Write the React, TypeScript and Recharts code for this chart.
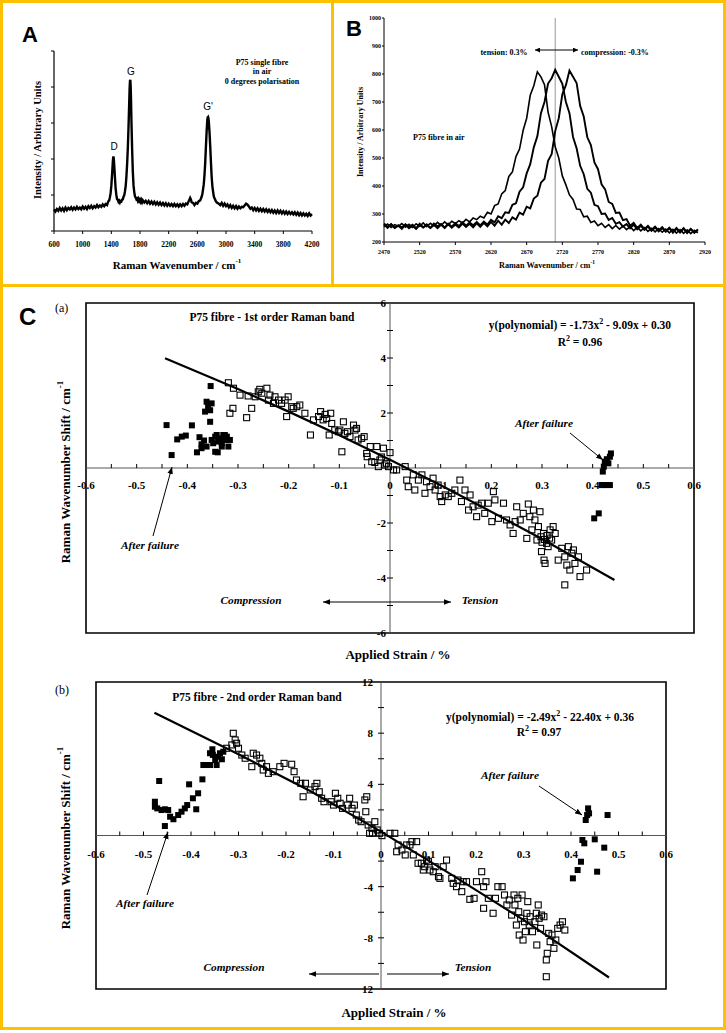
import React from 'react';
import {
  LineChart, Line, XAxis, YAxis, ComposedChart, Scatter, ReferenceLine, ReferenceArea,
} from 'recharts';

const SERIF = '"Liberation Serif","Times New Roman",Times,serif';
const SANS = '"Liberation Sans",Arial,Helvetica,sans-serif';
const GOLD = '#FFC000';

// ---------------- Panel A : full Raman spectrum ----------------
const specA: [number, number][] = [
  [600,600],[620,540],[640,610],[660,560],[680,640],[700,570],[720,630],[740,560],[760,650],[780,580],
  [800,640],[820,600],[840,660],[860,590],[880,650],[900,600],[920,670],[940,610],[960,650],[980,600],
  [1000,680],[1020,620],[1040,670],[1060,610],[1080,690],[1100,640],[1120,700],[1140,630],[1160,690],[1180,650],
  [1200,720],[1220,660],[1240,710],[1260,670],[1280,740],[1300,690],[1320,750],[1340,720],
  [1350,780],[1360,830],[1370,850],[1380,940],[1390,1050],[1400,1260],[1410,1560],[1420,1900],[1425,2030],[1430,2070],
  [1435,1990],[1440,1840],[1450,1490],[1460,1180],[1470,1000],[1480,880],[1490,870],[1500,810],[1510,840],[1520,790],
  [1530,830],[1540,820],[1550,870],[1560,880],[1570,950],[1580,990],[1590,1100],[1600,1240],[1610,1500],[1620,1850],
  [1630,2300],[1640,2900],[1650,3600],[1655,3950],[1660,4170],[1665,4200],[1670,4010],[1675,3620],[1680,3100],[1690,2280],
  [1700,1640],[1710,1260],[1720,1080],[1730,960],[1740,930],[1750,880],[1760,900],[1770,840],[1780,890],[1790,830],
  [1800,870],[1810,810],[1820,860],[1830,800],[1840,850],
  [1860,790],[1880,840],[1900,770],[1920,830],[1940,760],[1960,820],[1980,750],[2000,810],[2020,740],[2040,800],
  [2060,730],[2080,790],[2100,720],[2120,780],[2140,710],[2160,770],[2180,700],[2200,760],[2220,700],[2240,750],
  [2260,690],[2280,750],[2300,690],[2320,740],[2340,680],[2360,740],[2380,690],[2400,750],[2420,700],[2440,760],
  [2460,740],[2480,830],[2500,920],[2510,880],[2520,800],[2540,780],[2560,720],[2580,780],[2600,760],[2620,830],
  [2640,850],[2660,950],
  [2670,1030],[2680,1160],[2690,1300],[2700,1560],[2710,1900],[2720,2350],[2730,2780],[2740,3100],[2745,3160],[2750,3170],
  [2755,3130],[2760,3040],[2770,2740],[2780,2350],[2790,1900],[2800,1500],[2810,1240],[2820,1090],[2830,960],[2840,910],
  [2860,820],[2880,780],[2900,760],[2920,720],[2940,780],[2960,700],[2980,760],[3000,690],[3020,740],[3040,660],
  [3060,720],[3080,640],[3100,700],[3120,630],[3140,690],[3160,620],[3180,680],[3200,630],[3220,670],[3240,660],
  [3260,710],[3280,760],[3300,730],[3320,680],[3340,620],[3360,650],[3380,580],[3400,640],[3420,570],[3440,630],
  [3460,560],[3480,620],[3500,550],[3520,610],[3540,540],[3560,600],[3580,530],[3600,590],[3620,520],[3640,580],
  [3660,510],[3680,570],[3700,500],[3720,570],[3740,500],[3760,560],[3780,490],[3800,550],[3820,480],[3840,540],
  [3860,470],[3880,530],[3900,470],[3920,520],[3940,460],[3960,520],[3980,450],[4000,510],[4020,440],[4040,500],
  [4060,430],[4080,490],[4100,430],[4120,480],[4140,420],[4160,490],[4180,430],[4200,470],
];
const aXTicks = [600, 1000, 1400, 1800, 2200, 2600, 3000, 3400, 3800, 4200];
const aYTicks = [0, 1000, 2000, 3000, 4000, 5000];

// ---------------- Panel B : G' band under strain ----------------
const bWave = [
  2470,2475,2480,2485,2490,2495,2500,2505,2510,2515,2520,2525,2530,2535,2540,2545,
  2550,2555,2560,2565,2570,2575,2580,2585,2590,2595,2600,2605,2610,2615,2620,2625,
  2630,2635,2640,2645,2650,2655,2660,2665,2670,2675,2680,2685,2690,2695,2700,2705,
  2710,2715,2720,2725,2730,2735,2740,2745,2750,2755,2760,2765,2770,2775,2780,2785,
  2790,2795,2800,2805,2810,2815,2820,2825,2830,2835,2840,2845,2850,2855,2860,2865,
  2870,2875,2880,2885,2890,2895,2900,2905,2910,
];
const bTension = [
  255,264,252,262,256,266,253,263,252,265,256,268,255,267,258,270,
  259,272,261,274,266,276,268,281,272,286,280,292,286,306,300,330,
  336,372,384,434,450,505,532,598,642,724,758,808,790,762,664,612,
  540,500,436,404,368,352,318,316,290,292,270,275,258,267,252,262,
  248,259,246,257,244,255,241,253,240,251,238,249,236,248,235,246,
  233,245,232,244,231,243,230,242,233,
];
const bZero = [
  262,250,264,251,259,247,263,254,262,249,265,252,261,250,266,256,
  264,251,266,255,267,257,270,258,270,260,271,259,273,262,279,270,
  292,285,306,304,333,338,380,395,445,478,538,578,660,700,766,785,
  815,790,765,700,660,575,535,472,442,390,376,333,328,300,302,279,
  286,265,271,255,264,249,262,245,258,243,255,240,252,238,250,237,
  249,233,247,234,248,232,246,233,243,
];
const bCompression = [
  266,254,263,250,259,252,262,249,258,247,260,252,263,250,261,249,
  262,250,263,251,262,252,266,254,265,252,267,254,268,256,272,258,
  276,262,280,268,288,280,305,298,326,320,355,365,412,425,490,514,
  596,642,728,760,812,790,768,686,648,574,546,484,460,406,388,343,
  336,304,305,278,282,258,268,250,262,246,258,243,255,241,253,238,
  251,236,250,235,249,234,247,233,245,
];
const bXTicks = [2470, 2520, 2570, 2620, 2670, 2720, 2770, 2820, 2870, 2920];
const bYTicks = [200, 300, 400, 500, 600, 700, 800, 900, 1000];
const bCentre = 2710;

// ---------------- Panel C : strain shifts ----------------
const cXLabelValues = [-0.6, -0.5, -0.4, -0.3, -0.2, -0.1, 0, 0.1, 0.2, 0.3, 0.4, 0.5, 0.6];
const cXLabelText = ['-0.6', '-0.5', '-0.4', '-0.3', '-0.2', '-0.1', '0', '0.1', '0.2', '0.3', '0.4', '0.5', '0.6'];
const cXMinor = [-0.55,-0.5,-0.45,-0.4,-0.35,-0.3,-0.25,-0.2,-0.15,-0.1,-0.05,0.05,0.1,0.15,0.2,0.25,0.3,0.35,0.4,0.45,0.5,0.55];

// (a) first-order band
const caYLabelValues = [6, 4, 2, -2, -4, -6];
const caYLabelText = ['6', '4', '2', '-2', '-4', '-6'];
const caYMinor = [-5, -4, -3, -2, -1, 1, 2, 3, 4, 5];
const caOpen: [number, number][] = [
  [-0.319,3.1],[-0.316,1.99],[-0.309,2.9],[-0.31,2.17],[-0.296,2.65],[-0.283,1.83],[-0.28,2.62],[-0.273,2.17],
  [-0.266,2.59],[-0.26,2.77],[-0.257,2.86],[-0.253,2.72],[-0.243,2.9],[-0.24,2.47],[-0.237,2.65],[-0.23,2.35],
  [-0.227,2.59],[-0.22,2.47],[-0.214,2.35],[-0.207,2.47],[-0.201,2.59],[-0.204,1.87],[-0.194,2.23],[-0.191,2.17],
  [-0.184,2.23],[-0.178,2.29],[-0.168,1.99],[-0.157,1.2],[-0.151,1.75],[-0.141,1.87],[-0.137,2.05],[-0.132,1.75],
  [-0.128,1.95],[-0.125,1.8],[-0.12,1.2],[-0.117,1.99],[-0.115,1.62],[-0.109,1.38],[-0.102,1.32],[-0.099,1.38],
  [-0.095,0.59],[-0.092,1.68],[-0.089,1.26],[-0.084,1.32],[-0.079,1.14],[-0.072,1.56],[-0.069,1.38],[-0.066,1.44],
  [-0.063,1.02],[-0.056,1.08],[-0.051,1.14],[-0.046,0.53],[-0.045,0.41],[-0.039,0.78],[-0.036,0.23],[-0.03,0.2],
  [-0.026,0.78],[-0.023,0.05],[-0.02,0.29],[-0.013,0.72],[-0.01,0.11],[-0.003,0.05],[0,0.56],[0.007,-0.07],
  [-0.017,0.4],[-0.007,0.17],[0.013,-0.07],[0.03,0.05],[0.033,-0.44],[0.036,-0.68],[0.046,-0.25],[0.049,-0.8],
  [0.056,-0.44],[0.063,-0.25],[0.069,-0.92],[0.072,-0.5],[0.079,-0.68],[0.085,-0.37],[0.089,-0.8],[0.095,-0.62],
  [0.102,-1.22],[0.099,-1.04],[0.109,-0.98],[0.115,-1.04],[0.122,-0.92],[0.128,-0.8],[0.138,-0.44],[0.141,-1.22],
  [0.148,-0.8],[0.155,-1.53],[0.158,-0.98],[0.164,-1.41],[0.171,-1.77],[0.174,-1.35],[0.181,-1.28],[0.187,-1.65],
  [0.194,-1.28],[0.201,-1.95],[0.204,-0.86],[0.207,-1.16],[0.214,-1.83],[0.224,-1.28],[0.23,-1.89],[0.237,-2.07],
  [0.243,-2.38],[0.247,-1.95],[0.25,-1.41],[0.257,-1.89],[0.263,-1.65],[0.27,-2.56],[0.273,-1.31],[0.276,-1.77],
  [0.28,-2.25],[0.283,-1.53],[0.286,-1.89],[0.29,-2.62],[0.293,-2.13],[0.296,-1.59],[0.299,-3.04],[0.303,-2.38],
  [0.304,-3.35],[0.306,-3.47],[0.309,-2.74],[0.312,-2.86],[0.316,-2.25],[0.319,-2.62],[0.322,-2.13],[0.326,-2.38],
  [0.298,-2.5],[0.305,-2.6],[0.31,-2.45],[0.315,-2.55],[0.3,-2.7],
  [0.332,-3.35],[0.339,-2.92],[0.345,-4.25],[0.345,-3.23],[0.349,-3.53],[0.352,-2.86],[0.355,-3.71],[0.359,-3.1],
  [0.362,-2.98],[0.365,-3.47],[0.372,-3.23],[0.375,-3.95],[0.388,-3.71],
];
const caFilled: [number, number][] = [
  [-0.441,1.56],[-0.431,0.47],[-0.42,1.04],[-0.411,1.14],[-0.403,1.18],[-0.391,1.55],[-0.381,0.57],[-0.376,1.12],
  [-0.372,0.86],[-0.367,1.0],[-0.372,0.72],[-0.365,2.05],[-0.362,2.41],[-0.359,2.23],[-0.355,2.1],[-0.355,1.68],
  [-0.354,2.98],[-0.352,2.35],[-0.352,1.02],[-0.349,0.9],[-0.345,0.59],[-0.342,1.2],[-0.34,0.57],[-0.336,1.08],
  [-0.332,0.9],[-0.329,1.2],[-0.326,1.02],[-0.322,1.14],[-0.319,0.78],[-0.316,1.02],[-0.362,0.78],[-0.332,0.78],
  [-0.339,0.96],[-0.345,1.14],[-0.326,1.2],
  [0.403,-1.83],[0.412,-1.65],[0.42,-0.13],[0.422,0.05],[0.424,0.23],[0.428,0.32],[0.431,0.17],[0.434,0.41],
  [0.436,0.53],[0.418,-0.62],[0.421,-0.62],[0.428,-0.62],[0.434,-0.62],
];
const caFit: [number, number][] = [
  [-0.444,3.99],[-0.3,2.87],[-0.2,2.05],[-0.1,1.19],[0,0.3],[0.1,-0.63],[0.2,-1.59],[0.3,-2.58],[0.443,-4.07],
];

// (b) second-order band
const cbYLabelValues = [12, 8, 4, -4, -8, -12];
const cbYLabelText = ['12', '8', '4', '-4', '-8', '12'];
const cbYMinor = [-10, -8, -6, -4, -2, 2, 4, 6, 8, 10];
const cbOpen: [number, number][] = [
  [-0.325,6.82],[-0.314,7.08],[-0.311,7.99],[-0.307,7.47],[-0.304,7.21],[-0.3,6.82],[-0.293,6.29],[-0.286,6.04],
  [-0.272,5.38],[-0.269,6.43],[-0.262,6.29],[-0.255,6.04],[-0.251,5.64],[-0.248,5.12],[-0.241,5.38],[-0.237,4.86],
  [-0.227,4.99],[-0.213,5.38],[-0.204,5.64],
  [-0.188,5.57],[-0.183,4.99],[-0.178,4.34],[-0.169,4.08],[-0.164,3.03],[-0.159,4.08],[-0.149,3.56],[-0.139,3.82],
  [-0.135,4.08],[-0.13,3.42],[-0.125,2.91],[-0.12,2.64],[-0.105,2.64],[-0.1,2.38],[-0.096,3.3],[-0.091,2.91],
  [-0.086,2.52],[-0.081,2.12],[-0.071,2.38],[-0.066,2.91],[-0.061,2.12],[-0.056,2.38],[-0.052,1.6],[-0.047,1.21],
  [-0.042,1.08],[-0.034,2.78],[-0.032,1.86],[-0.03,3.03],[-0.027,0.82],[-0.024,0.17],[-0.019,0.56],[-0.018,0.17],
  [-0.013,1.08],[-0.008,0.43],[-0.003,0.17],[0.002,-0.01],
  [0.019,0.17],[0.029,0.17],[0.033,-1.27],[0.036,-0.74],[0.044,-1.13],[0.051,-1.52],[0.054,-0.74],[0.061,-0.74],
  [0.065,-0.48],[0.068,-1.52],[0.075,-0.48],[0.078,-2.17],[0.085,-2.17],[0.089,-2.7],[0.092,-2.44],[0.096,-1.92],
  [0.1,-2.05],[0.103,-2.7],[0.11,-2.83],[0.114,-2.44],[0.121,-3.22],[0.124,-3.35],[0.131,-2.44],[0.138,-1.92],
  [0.149,-3.35],[0.152,-3.74],[0.159,-4.0],[0.162,-3.48],[0.17,-4.39],[0.173,-3.61],[0.18,-3.61],[0.187,-4.99],
  [0.196,-4.91],[0.201,-3.61],
  [0.212,-2.83],[0.216,-4.0],[0.221,-3.61],[0.216,-5.69],[0.226,-4.91],[0.236,-6.08],[0.241,-4.91],[0.246,-4.0],
  [0.255,-4.0],[0.26,-4.65],[0.265,-5.43],[0.27,-5.04],[0.275,-6.22],[0.28,-4.65],[0.282,-5.43],[0.285,-7.0],
  [0.288,-4.91],[0.29,-5.96],[0.291,-7.78],[0.294,-6.47],[0.297,-4.65],[0.299,-8.17],[0.302,-6.74],[0.304,-7.52],
  [0.307,-6.08],[0.309,-5.17],[0.312,-7.0],[0.314,-6.35],[0.319,-7.52],[0.324,-6.74],[0.327,-6.08],[0.328,-8.56],
  [0.331,-5.43],[0.333,-6.47],[0.336,-7.26],[0.338,-6.22],[0.343,-6.35],[0.348,-11.04],[0.348,-9.73],[0.35,-9.21],
  [0.353,-7.65],[0.356,-8.3],[0.36,-7.78],[0.364,-8.82],[0.368,-8.17],[0.372,-7.26],[0.377,-7.0],[0.382,-6.74],
  [0.387,-7.39],
];
const cbFilled: [number, number][] = [
  [-0.467,4.26],[-0.476,2.64],[-0.476,2.25],[-0.471,2.12],[-0.462,1.99],[-0.455,2.05],[-0.448,1.99],[-0.444,1.47],
  [-0.437,1.27],[-0.455,0.74],[-0.427,1.6],[-0.42,1.86],[-0.413,2.12],[-0.408,2.38],[-0.404,4.0],[-0.396,2.91],
  [-0.389,2.05],[-0.385,3.3],[-0.376,4.39],[-0.374,5.51],[-0.367,5.51],[-0.36,5.51],[-0.36,6.43],[-0.355,6.74],
  [-0.354,6.3],[-0.349,5.9],[-0.346,5.51],[-0.343,6.16],[-0.339,6.43],[-0.335,5.96],[-0.332,6.55],
  [0.404,-3.35],[0.414,-2.7],[0.421,-2.05],[0.424,-0.35],[0.428,-0.61],[0.431,1.21],[0.434,1.6],[0.436,2.12],
  [0.438,1.73],[0.45,-0.3],[0.455,-2.83],[0.47,-0.95],[0.477,1.6],
];
const cbFit: [number, number][] = [
  [-0.477,9.6],[-0.3,6.35],[-0.15,3.5],[0,0.3],[0.15,-3.1],[0.3,-6.6],[0.48,-11.1],
];

// ---------------- helpers ----------------
const toXY = (pairs: [number, number][]) => pairs.map(([x, y]) => ({ x, y }));
const specAData = specA.map(([x, y]) => ({ x, y }));
const specBData = bWave.map((x, i) => ({ x, t: bTension[i], m: bZero[i], c: bCompression[i] }));

const OpenSquare = (p: any) => (
  <rect x={p.cx - 3} y={p.cy - 3} width={6} height={6} fill="none" stroke="#000" strokeWidth={1.1} />
);
const FilledSquare = (p: any) => (
  <rect x={p.cx - 3} y={p.cy - 3} width={6} height={6} fill="#000" />
);
const NoDot = () => <g />;
const XMinorTick = (p: any) => (
  <line x1={p.cx} y1={p.cy} x2={p.cx} y2={p.cy - 4} stroke="#000" strokeWidth={1} />
);
const YMinorTick = (p: any) => (
  <line x1={p.cx - 3} y1={p.cy} x2={p.cx + 3} y2={p.cy} stroke="#000" strokeWidth={1} />
);
const makeXLabel = (dy: number) => (p: any) => (
  <text x={p.cx} y={p.cy + dy} textAnchor="middle" dominantBaseline="central"
    fontFamily={SERIF} fontWeight="bold" fontSize={11} fill="#000">{p.payload.label}</text>
);
const makeYLabel = (dx: number) => (p: any) => (
  <text x={p.cx + dx} y={p.cy} textAnchor="end" dominantBaseline="central"
    fontFamily={SERIF} fontWeight="bold" fontSize={11} fill="#000">{p.payload.label}</text>
);

type StrainProps = {
  top: number; height: number; margin: any; yDomain: [number, number];
  open: [number, number][]; filled: [number, number][]; fit: [number, number][];
  yMinor: number[]; yLabelValues: number[]; yLabelText: string[];
  xLabelDy: number; yLabelDx: number;
};

function StrainPanel(props: StrainProps) {
  const { top, height, margin, yDomain, open, filled, fit, yMinor, yLabelValues, yLabelText, xLabelDy, yLabelDx } = props;
  const xMinorData = cXMinor.map((x) => ({ x, y: 0 }));
  const yMinorData = yMinor.map((y) => ({ x: 0, y }));
  const xLabelData = cXLabelValues.map((x, i) => ({ x, y: 0, label: cXLabelText[i] }));
  const yLabelData = yLabelValues.map((y, i) => ({ x: 0, y, label: yLabelText[i] }));
  return (
    <div style={{ position: 'absolute', left: 0, top }}>
      <ComposedChart width={726} height={height} margin={margin}>
        <XAxis type="number" dataKey="x" domain={[-0.6, 0.6]} hide />
        <YAxis type="number" dataKey="y" domain={yDomain} hide />
        <ReferenceArea x1={-0.6} x2={0.6} y1={yDomain[0]} y2={yDomain[1]} fill="#fff" fillOpacity={0}
          stroke="#000" strokeWidth={1.6} />
        <ReferenceLine x={0} stroke="#555" strokeWidth={1} />
        <ReferenceLine y={0} stroke="#555" strokeWidth={1} />
        <Scatter data={xMinorData} shape={XMinorTick} isAnimationActive={false} />
        <Scatter data={yMinorData} shape={YMinorTick} isAnimationActive={false} />
        <Scatter data={xLabelData} shape={makeXLabel(xLabelDy)} isAnimationActive={false} />
        <Scatter data={yLabelData} shape={makeYLabel(yLabelDx)} isAnimationActive={false} />
        <Scatter data={toXY(open)} shape={OpenSquare} isAnimationActive={false} />
        <Scatter data={toXY(filled)} shape={FilledSquare} isAnimationActive={false} />
        <Scatter data={toXY(fit)} shape={NoDot} line={{ stroke: '#000', strokeWidth: 2.2 }} lineType="joint"
          isAnimationActive={false} />
      </ComposedChart>
    </div>
  );
}

const sup = (t: string, size: number, dy: number) => (
  <tspan dy={-dy} fontSize={size}>{t}</tspan>
);

export default function App() {
  const tb = (size: number) => ({ fontFamily: SERIF, fontWeight: 'bold' as const, fontSize: size, fill: '#000' });
  const ti = (size: number) => ({ fontFamily: SERIF, fontWeight: 'bold' as const, fontStyle: 'italic' as const, fontSize: size, fill: '#000' });
  return (
    <div style={{ position: 'absolute', left: 0, top: 0, width: 726, height: 1033, background: '#fff', overflow: 'hidden' }}>
      {/* Panel A chart */}
      <div style={{ position: 'absolute', left: 0, top: 0 }}>
        <LineChart width={332} height={285} data={specAData} margin={{ top: 51, right: 20, left: 0, bottom: 0 }}>
          <XAxis type="number" dataKey="x" domain={[600, 4200]} ticks={aXTicks} interval={0} height={54}
            tickSize={3} tickMargin={8}
            axisLine={{ stroke: '#000', strokeWidth: 1.2 }} tickLine={{ stroke: '#000' }}
            tick={{ fontSize: 7.5, fontFamily: SERIF, fontWeight: 'bold', fill: '#000' }} />
          <YAxis type="number" domain={[0, 5000]} ticks={aYTicks} interval={0} width={54} tickSize={3}
            axisLine={{ stroke: '#000', strokeWidth: 1.2 }} tickLine={{ stroke: '#000' }}
            tick={() => <g />} />
          <Line type="linear" dataKey="y" stroke="#000" strokeWidth={2.4} dot={false} isAnimationActive={false} />
        </LineChart>
      </div>

      {/* Panel B chart */}
      <div style={{ position: 'absolute', left: 333, top: 0 }}>
        <LineChart width={393} height={285} data={specBData} margin={{ top: 18, right: 21, left: 0, bottom: 0 }}>
          <XAxis type="number" dataKey="x" domain={[2470, 2920]} ticks={bXTicks} interval={0} height={43}
            tickSize={3} tickMargin={5}
            axisLine={{ stroke: '#000' }} tickLine={{ stroke: '#000' }}
            tick={{ fontSize: 6, fontFamily: SERIF, fontWeight: 'bold', fill: '#000' }} />
          <YAxis type="number" domain={[200, 1000]} ticks={bYTicks} interval={0} width={51} tickSize={2}
            tickMargin={1} axisLine={{ stroke: '#000' }} tickLine={{ stroke: '#000' }}
            tick={{ fontSize: 6, fontFamily: SERIF, fontWeight: 'bold', fill: '#000' }} />
          <ReferenceLine x={bCentre} stroke="#999" strokeWidth={1} />
          <Line type="linear" dataKey="t" stroke="#000" strokeWidth={1.6} dot={false} isAnimationActive={false} />
          <Line type="linear" dataKey="m" stroke="#000" strokeWidth={1.9} dot={false} isAnimationActive={false} />
          <Line type="linear" dataKey="c" stroke="#000" strokeWidth={1.9} dot={false} isAnimationActive={false} />
        </LineChart>
      </div>

      {/* Panel C(a) */}
      <StrainPanel top={285} height={380} margin={{ top: 18, right: 32, left: 86, bottom: 32 }} yDomain={[-6, 6]}
        open={caOpen} filled={caFilled} fit={caFit} yMinor={caYMinor}
        yLabelValues={caYLabelValues} yLabelText={caYLabelText} xLabelDy={17} yLabelDx={-4} />

      {/* Panel C(b) */}
      <StrainPanel top={665} height={368} margin={{ top: 17, right: 60, left: 96, bottom: 44 }} yDomain={[-12, 12]}
        open={cbOpen} filled={cbFilled} fit={cbFit} yMinor={cbYMinor}
        yLabelValues={cbYLabelValues} yLabelText={cbYLabelText} xLabelDy={18} yLabelDx={-8} />

      {/* Yellow frames */}
      <div style={{ position: 'absolute', left: 0, top: 0, width: 334, height: 287, border: `3px solid ${GOLD}`, boxSizing: 'border-box' }} />
      <div style={{ position: 'absolute', left: 331, top: 0, width: 395, height: 287, border: `3px solid ${GOLD}`, boxSizing: 'border-box' }} />
      <div style={{ position: 'absolute', left: 0, top: 284, width: 726, height: 746, border: `3px solid ${GOLD}`, boxSizing: 'border-box' }} />

      {/* Text and annotation overlay */}
      <svg width={726} height={1033} style={{ position: 'absolute', left: 0, top: 0, pointerEvents: 'none' }}>
        <defs>
          <marker id="ah" viewBox="0 0 10 10" refX="10" refY="5" markerWidth="7" markerHeight="7"
            markerUnits="userSpaceOnUse" orient="auto-start-reverse">
            <path d="M0,1 L10,5 L0,9 z" fill="#000" />
          </marker>
          <marker id="ahs" viewBox="0 0 10 10" refX="10" refY="5" markerWidth="6" markerHeight="5"
            markerUnits="userSpaceOnUse" orient="auto-start-reverse">
            <path d="M0,0 L10,5 L0,10 z" fill="#000" />
          </marker>
        </defs>

        {/* Panel A texts */}
        <text x={22} y={42} fontFamily={SANS} fontWeight="bold" fontSize={22} fill="#000">A</text>
        <text x={262} y={62} textAnchor="middle" dominantBaseline="central" {...tb(8)}>P75 single fibre</text>
        <text x={262} y={71.5} textAnchor="middle" dominantBaseline="central" {...tb(8)}>in air</text>
        <text x={262} y={81} textAnchor="middle" dominantBaseline="central" {...tb(8)}>0 degrees polarisation</text>
        <text x={114} y={146} textAnchor="middle" dominantBaseline="central" fontFamily={SANS} fontSize={10} fill="#000">D</text>
        <text x={131} y={71} textAnchor="middle" dominantBaseline="central" fontFamily={SANS} fontSize={10} fill="#000">G</text>
        <text x={208} y={106} textAnchor="middle" dominantBaseline="central" fontFamily={SANS} fontSize={10} fill="#000">G'</text>
        <text transform="translate(37,140) rotate(-90)" textAnchor="middle" dominantBaseline="central" {...tb(10.5)}>
          Intensity / Arbitrary Units</text>
        <text x={177} y={265} textAnchor="middle" dominantBaseline="central" {...tb(11)}>
          Raman Wavenumber / cm{sup('-1', 7, 4)}</text>

        {/* Panel B texts */}
        <text x={346} y={36} fontFamily={SANS} fontWeight="bold" fontSize={22} fill="#000">B</text>
        <text x={504} y={52} textAnchor="middle" dominantBaseline="central" {...tb(8)}>tension: 0.3%</text>
        <text x={581} y={52} textAnchor="start" dominantBaseline="central" {...tb(8)}>compression: -0.3%</text>
        <line x1={535} y1={50} x2={578} y2={50} stroke="#000" strokeWidth={1} markerStart="url(#ahs)" markerEnd="url(#ahs)" />
        <text x={413} y={137} textAnchor="start" dominantBaseline="central" {...tb(8)}>P75 fibre in air</text>
        <text transform="translate(360,132) rotate(-90)" textAnchor="middle" dominantBaseline="central" {...tb(8)}>
          Intensity / Arbitrary Units</text>
        <text x={547} y={265} textAnchor="middle" dominantBaseline="central" {...tb(8.2)}>
          Raman Wavenumber / cm{sup('-1', 5.5, 3)}</text>

        {/* Panel C texts */}
        <text x={19} y={325} fontFamily={SANS} fontWeight="bold" fontSize={24} fill="#000">C</text>

        {/* (a) */}
        <text x={55} y={308} dominantBaseline="central" fontFamily={SERIF} fontSize={12} fill="#000">(a)</text>
        <text x={272} y={317} textAnchor="middle" dominantBaseline="central" {...tb(11.5)}>P75 fibre - 1st order Raman band</text>
        <text x={580} y={325} textAnchor="middle" dominantBaseline="central" {...tb(11.5)}>
          y(polynomial) = -1.73x{sup('2', 8, 4)}<tspan dy={4}> - 9.09x + 0.30</tspan></text>
        <text x={580} y={342} textAnchor="middle" dominantBaseline="central" {...tb(11.5)}>
          R{sup('2', 8, 4)}<tspan dy={4}> = 0.96</tspan></text>
        <text x={544} y={423} textAnchor="middle" dominantBaseline="central" {...ti(11.3)}>After failure</text>
        <line x1={570} y1={433} x2={603} y2={460} stroke="#000" strokeWidth={1} markerEnd="url(#ah)" />
        <text x={150} y={545} textAnchor="middle" dominantBaseline="central" {...ti(11.3)}>After failure</text>
        <line x1={153} y1={536} x2={172} y2={467} stroke="#000" strokeWidth={1} markerEnd="url(#ah)" />
        <text x={251} y={600} textAnchor="middle" dominantBaseline="central" {...ti(11.3)}>Compression</text>
        <text x={480} y={600} textAnchor="middle" dominantBaseline="central" {...ti(11.3)}>Tension</text>
        <line x1={323} y1={602} x2={451} y2={602} stroke="#000" strokeWidth={1} markerStart="url(#ah)" markerEnd="url(#ah)" />
        <text x={398} y={654} textAnchor="middle" dominantBaseline="central" {...tb(13)}>Applied Strain / %</text>
        <text transform="translate(65,472) rotate(-90)" textAnchor="middle" dominantBaseline="central" {...tb(13)}>
          Raman Wavenumber Shift / cm{sup('-1', 9, 5)}</text>

        {/* (b) */}
        <text x={55} y={690} dominantBaseline="central" fontFamily={SERIF} fontSize={12} fill="#000">(b)</text>
        <text x={257} y={697} textAnchor="middle" dominantBaseline="central" {...tb(11.5)}>P75 fibre - 2nd order Raman band</text>
        <text x={540} y={717} textAnchor="middle" dominantBaseline="central" {...tb(11.5)}>
          y(polynomial) = -2.49x{sup('2', 8, 4)}<tspan dy={4}> - 22.40x + 0.36</tspan></text>
        <text x={539} y={732} textAnchor="middle" dominantBaseline="central" {...tb(11.5)}>
          R{sup('2', 8, 4)}<tspan dy={4}> = 0.97</tspan></text>
        <text x={510} y={775} textAnchor="middle" dominantBaseline="central" {...ti(11.3)}>After failure</text>
        <line x1={539} y1={786} x2={582} y2={815} stroke="#000" strokeWidth={1} markerEnd="url(#ah)" />
        <text x={145} y={903} textAnchor="middle" dominantBaseline="central" {...ti(11.3)}>After failure</text>
        <line x1={147} y1={895} x2={168} y2={832} stroke="#000" strokeWidth={1} markerEnd="url(#ah)" />
        <text x={234} y={967} textAnchor="middle" dominantBaseline="central" {...ti(11.3)}>Compression</text>
        <text x={473} y={967} textAnchor="middle" dominantBaseline="central" {...ti(11.3)}>Tension</text>
        <line x1={379} y1={974} x2={309} y2={974} stroke="#000" strokeWidth={1} markerEnd="url(#ah)" />
        <line x1={387} y1={974} x2={449} y2={974} stroke="#000" strokeWidth={1} markerEnd="url(#ah)" />
        <text x={394} y={1012} textAnchor="middle" dominantBaseline="central" {...tb(13)}>Applied Strain / %</text>
        <text transform="translate(65,838) rotate(-90)" textAnchor="middle" dominantBaseline="central" {...tb(13)}>
          Raman Wavenumber Shift / cm{sup('-1', 9, 5)}</text>
      </svg>
    </div>
  );
}
